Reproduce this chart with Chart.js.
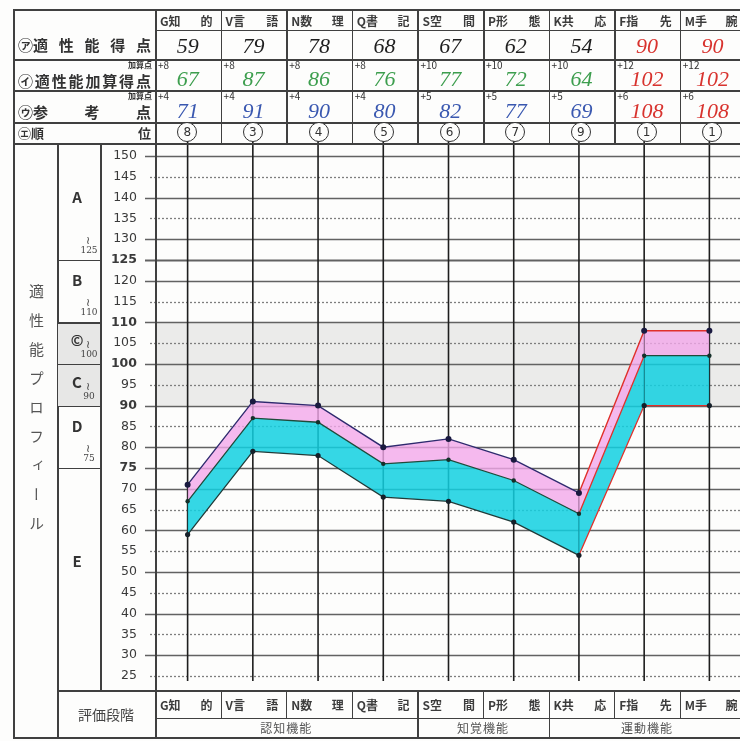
<!DOCTYPE html>
<html lang="ja">
<head>
<meta charset="utf-8">
<script src="https://cdn.jsdelivr.net/npm/chart.js@4.4.1/dist/chart.umd.min.js"></script>
<style>
body{margin:0;background:#fdfdfc;}
#wrap{position:relative;width:740px;height:741px;overflow:hidden;font-family:"Noto Sans CJK JP","Noto Sans",sans-serif;color:#333}
#chart{position:absolute;left:0;top:0}
#form{position:absolute;left:0;top:0;width:740px;height:741px}
.ln{position:absolute;background:#404040}
.t{position:absolute;white-space:nowrap}
.sp{position:absolute;display:flex;justify-content:space-between;align-items:center;box-sizing:border-box;white-space:nowrap}
.hw{font-family:"Liberation Serif",serif;font-style:italic;font-size:22px}
.rk{position:absolute;width:18px;height:18px;border:1.3px solid #333;border-radius:50%;font:12px "DejaVu Sans",sans-serif;text-align:center;line-height:18px;color:#333}
</style>
</head>
<body>
<div id="wrap"><canvas id="chart" width="746" height="741"></canvas><div id="form"></div></div>
<script>
// 適性能プロフィール
const abilities = ['G', 'V', 'N', 'Q', 'S', 'P', 'K', 'F', 'M'];
const abilityNames = [['G知', '的'], ['V言', '語'], ['N数', '理'], ['Q書', '記'], ['S空', '間'], ['P形', '態'], ['K共', '応'], ['F指', '先'], ['M手', '腕']];
const scores = [59, 79, 78, 68, 67, 62, 54, 90, 90];
const bonus1 = [8, 8, 8, 8, 10, 10, 10, 12, 12];
const addedScores = [67, 87, 86, 76, 77, 72, 64, 102, 102];
const bonus2 = [4, 4, 4, 4, 5, 5, 5, 6, 6];
const refScores = [71, 91, 90, 80, 82, 77, 69, 108, 108];
const ranks = [8, 3, 4, 5, 6, 7, 9, 1, 1];
const groups = [['認知機能', 4], ['知覚機能', 2], ['運動機能', 3]];
const grades = [['A', 150, 125, '125'], ['B', 125, 110, '110'], ['©', 110, 100, '100'], ['C', 100, 90, '90'], ['D', 90, 75, '75'], ['E', 75, 25, '']];
const boldTicks = [125, 110, 100, 90, 75];

const red = '#e0302a';

const formGrid = {
  id: 'formGrid',
  beforeDatasetsDraw(chart) {
    const {ctx, chartArea: a, scales: {x, y}} = chart;
    ctx.save();
    ctx.fillStyle = '#ebebea';
    const t = y.getPixelForValue(110), b = y.getPixelForValue(90);
    ctx.fillRect(a.left, t, a.right - a.left, b - t);
    y.ticks.forEach(tk => {
      const v = tk.value;
      const py = Math.round(y.getPixelForValue(v)) + 0.5;
      const solid = v % 10 === 0 || v === 125 || v === 75;
      ctx.beginPath();
      ctx.setLineDash(solid ? [] : [2, 2]);
      ctx.strokeStyle = solid ? '#626262' : '#7e7e7e';
      ctx.lineWidth = v === 125 ? 2 : 1.3;
      ctx.moveTo(solid ? a.left - 10 : a.left - 5, py);
      ctx.lineTo(a.right, py);
      ctx.stroke();
    });
    ctx.setLineDash([]);
    ctx.strokeStyle = '#1e1e1e';
    ctx.lineWidth = 1.6;
    abilities.forEach((_, i) => {
      const px = x.getPixelForValue(i);
      ctx.beginPath();
      ctx.moveTo(px, 133);
      ctx.lineTo(px, a.bottom + 5);
      ctx.stroke();
    });
    ctx.restore();
  }
};

const chart = new Chart(document.getElementById('chart'), {
  type: 'line',
  data: {
    labels: abilities,
    datasets: [
      {
        label: '適性能得点', data: scores, borderColor: '#1f3a38', borderWidth: 1.3,
        pointRadius: 2.6, pointBackgroundColor: '#15202a', pointBorderWidth: 0, fill: false,
        segment: {borderColor: c => c.p0DataIndex >= 6 ? red : undefined}
      },
      {
        label: '適性能加算得点', data: addedScores, borderColor: '#1f4a3a', borderWidth: 1.3,
        pointRadius: 2.2, pointBackgroundColor: '#15302a', pointBorderWidth: 0,
        fill: 0, backgroundColor: 'rgba(18,208,224,0.85)',
        segment: {borderColor: c => c.p0DataIndex === 6 ? red : undefined}
      },
      {
        label: '参考点', data: refScores, borderColor: '#2e2a6e', borderWidth: 1.4,
        pointRadius: 3, pointBackgroundColor: '#1a1a40', pointBorderWidth: 0,
        fill: 1, backgroundColor: 'rgba(242,168,234,0.8)',
        segment: {borderColor: c => c.p0DataIndex >= 6 ? red : undefined}
      }
    ]
  },
  options: {
    responsive: false,
    animation: false,
    layout: {padding: {left: 100, top: 156, right: 1, bottom: 65}},
    plugins: {legend: {display: false}, tooltip: {enabled: false}},
    scales: {
      x: {display: false, offset: true},
      y: {
        min: 25, max: 150,
        afterFit: s => { s.width = 55; },
        grid: {display: false, drawTicks: false},
        border: {display: false},
        ticks: {
          stepSize: 5, padding: 18, color: '#3a3a3a',
          font: c => ({family: 'DejaVu Sans', size: 12.5, weight: (c.tick && boldTicks.includes(c.tick.value)) ? 'bold' : 'normal'})
        }
      }
    }
  },
  plugins: [formGrid]
});

// 用紙の枠と文字
const form = document.getElementById('form');
const yS = chart.scales.y;
const colW = 65.6;
const colX = i => 155 + colW * i;

function line(x, y, w, h, c) {
  const d = document.createElement('div');
  d.className = 'ln';
  d.style.cssText = `left:${x}px;top:${y}px;width:${w}px;height:${h}px` + (c ? `;background:${c}` : '');
  form.appendChild(d);
}
function text(str, x, y, w, h, css) {
  const d = document.createElement('div');
  d.className = 't';
  d.textContent = str;
  d.style.cssText = `left:${x}px;top:${y}px;width:${w}px;height:${h}px;line-height:${h}px;text-align:center;` + (css || '');
  form.appendChild(d);
  return d;
}
function spread(parts, x, y, w, h, css) {
  const d = document.createElement('div');
  d.className = 'sp';
  d.style.cssText = `left:${x}px;top:${y}px;width:${w}px;height:${h}px;` + (css || '');
  parts.forEach(p => {
    const s = document.createElement('span');
    s.textContent = p;
    d.appendChild(s);
  });
  form.appendChild(d);
}

// 上の表
[9, 59, 90, 122, 143].forEach(y => line(13, y, 733, 1.5));
line(155, 30, 591, 1.2);
line(13, 9, 1.5, 729);
for (let k = 0; k < 9; k++) line(colX(k), 9, 1.5, 134);

const lab = 'font-size:15px;font-weight:bold;padding:0 3px 0 4px;';
spread(['㋐適', '性', '能', '得', '点'], 14, 31, 140, 26, lab);
text('加算点', 100, 59, 52, 12, 'text-align:right;font-size:8px;font-weight:bold;');
spread(['㋑', '適', '性', '能', '加', '算', '得', '点'], 14, 71, 140, 18, lab);
text('加算点', 100, 90, 52, 12, 'text-align:right;font-size:8px;font-weight:bold;');
spread(['㋒参', '考', '点'], 14, 102, 140, 18, lab);
spread(['㋓順', '位'], 14, 123, 140, 19, 'font-size:13px;font-weight:bold;padding:0 3px 0 4px;');

abilities.forEach((a, i) => {
  const x = colX(i);
  const late = i >= 7;
  spread(abilityNames[i], x, 10, colW, 20, 'font-size:12px;font-weight:bold;color:#3c3c3c;padding:0 8px 0 5px;');
  text(String(scores[i]), x, 32, colW, 27, 'color:' + (late ? '#d8332e' : '#1e1e1e')).classList.add('hw');
  text('+' + bonus1[i], x + 3, 59, 30, 12, 'text-align:left;font-size:10px;');
  text(String(addedScores[i]), x, 68, colW, 22, 'color:' + (late ? '#d8332e' : '#3d9e4e')).classList.add('hw');
  text('+' + bonus2[i], x + 3, 90, 30, 12, 'text-align:left;font-size:10px;');
  text(String(refScores[i]), x, 99, colW, 23, 'color:' + (late ? '#d8332e' : '#3a58b0')).classList.add('hw');
  const r = document.createElement('div');
  r.className = 'rk';
  r.textContent = ranks[i];
  r.style.left = (x + colW / 2 - 10.5) + 'px';
  r.style.top = '122px';
  r.style.background = '#fdfdfc';
  form.appendChild(r);
});

// 左の列
line(57, 143, 1.5, 595);
line(100, 143, 1.5, 547);
text('適性能プロフィール', 27, 284, 18, 270, 'writing-mode:vertical-rl;font-size:15px;letter-spacing:14px;line-height:18px;color:#555;text-align:left;');
grades.forEach(([g, hi, lo, sub]) => {
  const t = yS.getPixelForValue(hi), b = yS.getPixelForValue(lo);
  if (hi === 110 || hi === 100) {
    const s = document.createElement('div');
    s.style.cssText = `position:absolute;left:58px;top:${t}px;width:42px;height:${b - t}px;background:#e7e7e6`;
    form.appendChild(s);
  }
  if (hi !== 150) line(57, t, 43, 1.3);
  const mid = (t + b) / 2;
  const big = (b - t) > 50;
  text(g, 62, big ? mid - 22 : mid - 14, 30, 22, 'font-size:15px;font-weight:bold;color:#333;');
  if (sub) {
    text('≀', 82, b - 28, 12, 14, 'font-size:11px;color:#444;');
    text(sub, 78, b - 16, 22, 13, 'font-size:9px;color:#444;font-family:"DejaVu Serif",serif;');
  }
});

// 下の表
line(57, 690, 689, 1.5);
line(155, 718, 591, 1.2);
line(13, 737, 733, 1.5);
line(155, 143, 1.5, 595);
for (let k = 1; k < 9; k++) line(colX(k), 690, 1.2, 28);
text('評価段階', 57, 692, 98, 44, 'font-size:14px;color:#444;');
abilities.forEach((a, i) => {
  spread(abilityNames[i], colX(i), 691, colW, 27, 'font-size:12px;font-weight:bold;color:#3c3c3c;padding:0 8px 0 5px;');
});
let gi = 0;
groups.forEach(([name, n]) => {
  if (gi > 0) line(colX(gi), 718, 1.2, 19);
  text(name, colX(gi), 719, colW * n, 18, 'font-size:12px;color:#555;letter-spacing:1px;');
  gi += n;
});
</script>
</body>
</html>
